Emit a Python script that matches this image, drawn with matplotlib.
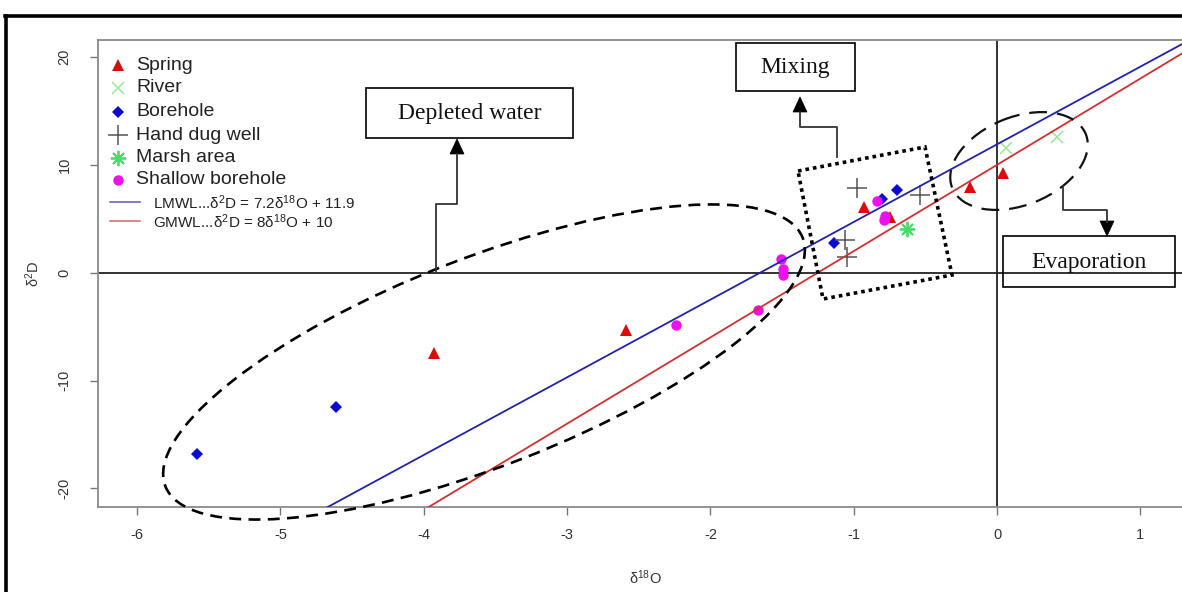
import matplotlib
matplotlib.use("Agg")
import matplotlib.pyplot as plt
from matplotlib.patches import Ellipse, Polygon, Rectangle

plt.rcParams["axes.unicode_minus"] = False
plt.rcParams["mathtext.default"] = "regular"

# ---------------- data ----------------
spring_x = [-3.93, -2.59, -0.93, -0.75, -0.19, 0.04]
spring_y = [-7.45, -5.3, 6.1, 5.2, 7.9, 9.2]
river_x = [0.06, 0.42]
river_y = [11.6, 12.6]
borehole_x = [-5.58, -4.61, -1.14, -0.80, -0.70]
borehole_y = [-16.8, -12.45, 2.75, 6.8, 7.7]
handdug_x = [-0.98, -0.54, -1.06, -1.05]
handdug_y = [7.85, 7.2, 3.0, 1.45]
marsh_x = [-0.63]
marsh_y = [4.05]
shallow_x = [-2.24, -1.67, -1.51, -1.49, -1.49, -0.84, -0.79, -0.78]
shallow_y = [-4.85, -3.5, 1.27, 0.3, -0.2, 6.65, 4.9, 5.25]

lmwl_slope, lmwl_icpt = 7.2, 11.9
gmwl_slope, gmwl_icpt = 8.0, 10.0

x_ticks = [-6, -5, -4, -3, -2, -1, 0, 1]
y_ticks = [-20, -10, 0, 10, 20]

series_names = ["Spring", "River", "Borehole", "Hand dug well", "Marsh area", "Shallow borehole"]
line_names = ["LMWL...δ$^{2}$D = 7.2δ$^{18}$O + 11.9",
              "GMWL...δ$^{2}$D = 8δ$^{18}$O + 10"]

# ---------------- styles ----------------
styles = {
    "Spring": dict(marker="^", color="#dd0a0a", ms=8, mew=0, ls="none"),
    "River": dict(marker="x", color="#98e898", ms=9, mew=1.1, ls="none"),
    "Borehole": dict(marker="D", color="#0a0ad0", ms=6.5, mew=0, ls="none"),
    "Hand dug well": dict(marker="+", color="#555555", ms=14, mew=1.1, ls="none"),
    "Marsh area": dict(marker=(8, 2, 0), color="#44dd66", ms=11, mew=1.3, ls="none"),
    "Shallow borehole": dict(marker="o", color="#ee10ee", ms=7.5, mew=0, ls="none"),
}
lmwl_color = "#2222aa"
gmwl_color = "#d23030"

W, H = 1182, 592
fig = plt.figure(figsize=(W / 100, H / 100), dpi=100)
fig.patch.set_facecolor("white")

def fx(px):
    return px / W

def fy(py):
    return 1 - py / H

L, R, T, B = 98, 1192, 40, 507
ax = fig.add_axes([fx(L), fy(B), fx(R) - fx(L), fy(T) - fy(B)])
x0px, sx, y0py, sy = 997.0, 143.3, 272.7, 10.785
ax.set_xlim((L - x0px) / sx, (R - x0px) / sx)
ax.set_ylim((y0py - B) / sy, (y0py - T) / sy)

data = {
    "Spring": (spring_x, spring_y),
    "River": (river_x, river_y),
    "Borehole": (borehole_x, borehole_y),
    "Hand dug well": (handdug_x, handdug_y),
    "Marsh area": (marsh_x, marsh_y),
    "Shallow borehole": (shallow_x, shallow_y),
}
for name in series_names:
    xs, ys = data[name]
    ax.plot(xs, ys, zorder=3, **styles[name])

xl = [-7, 2]
ax.plot(xl, [lmwl_slope * v + lmwl_icpt for v in xl], color=lmwl_color, lw=1.3, zorder=4)
ax.plot(xl, [gmwl_slope * v + gmwl_icpt for v in xl], color=gmwl_color, lw=1.3, zorder=4)
ax.axhline(0, color="#222222", lw=1.3, zorder=2)
ax.axvline(0, color="#222222", lw=1.3, zorder=2)

for s in ax.spines.values():
    s.set_color("#8a8a8a")
    s.set_linewidth(1.3)
ax.set_xticks(x_ticks)
ax.set_yticks(y_ticks)
ax.tick_params(direction="out", length=6, width=1, color="#777777",
               labelsize=10.5, labelcolor="#333333", pad=9)
ax.tick_params(axis="y", labelrotation=90, pad=13)
for lab in ax.get_yticklabels():
    lab.set_va("center")
    lab.set_fontfamily("Liberation Sans")
for lab in ax.get_xticklabels():
    lab.set_fontfamily("Liberation Sans")

ax.set_xlabel("δ$^{18}$O", fontsize=10.5, color="#333333", labelpad=19, family="Liberation Sans")
ax.set_ylabel("δ$^{2}$D", fontsize=10.5, color="#333333", labelpad=11, family="Liberation Sans")

# ---------------- overlay in pixel coordinates ----------------
ov = fig.add_axes([0, 0, 1, 1])
ov.set_xlim(0, W)
ov.set_ylim(H, 0)
ov.axis("off")
ov.patch.set_alpha(0)

# outer frame
ov.plot([5, W + 5], [16, 16], color="black", lw=2.6, clip_on=False, solid_capstyle="projecting")
ov.plot([6, 6], [16, H + 5], color="black", lw=2.6, clip_on=False)

# legend
leg_rows = [65, 88, 112, 135, 158, 180]
for name, yy in zip(series_names, leg_rows):
    st = dict(styles[name])
    ov.plot([118], [yy], **st)
    ov.text(136, yy, name, fontsize=14, family="Liberation Sans", va="center", ha="left", color="#222222")
for txt, col, yy in zip(line_names, [lmwl_color, gmwl_color], [202, 221]):
    ov.plot([110, 140], [yy, yy], color=col, lw=1.1, alpha=0.75)
    ov.text(153, yy + 1, txt, fontsize=11, family="Liberation Sans", va="center", ha="left", color="#222222")

# ellipses and mixing box
ov.add_patch(Ellipse((484, 362), 2 * 342, 2 * 104, angle=-21.3, fill=False, ec="black", lw=1.9,
                     ls=(0, (4.5, 2.8))))
ov.add_patch(Ellipse((1019, 161), 2 * 72, 2 * 44, angle=-22, fill=False, ec="#111111", lw=1.6,
                     ls=(0, (8, 4.5))))
ov.add_patch(Polygon([(798, 171), (925, 147), (952, 275), (823, 299)], closed=True, fill=False,
                     ec="black", lw=2.6, ls=(0, (1, 1.1))))

# text boxes
def tbox(x0, y0, x1, y1, text, size):
    ov.add_patch(Rectangle((x0, y0), x1 - x0, y1 - y0, fill=False, ec="black", lw=1.2))
    ov.text((x0 + x1) / 2, (y0 + y1) / 2 + 1, text, fontsize=size, family="Liberation Serif",
            ha="center", va="center", color="#111111")

tbox(366, 88, 573, 138, "Depleted water", 17)
tbox(736, 43, 855, 91, "Mixing", 17)
tbox(1003, 236, 1175, 287, "Evaporation", 17)

def elbow(pts, tip, up):
    xs = [p[0] for p in pts]
    ys = [p[1] for p in pts]
    ov.plot(xs, ys, color="#333333", lw=1.3)
    tx, ty = tip
    hw, hh = 7, 15
    if up:
        tri = [(tx, ty), (tx - hw, ty + hh), (tx + hw, ty + hh)]
    else:
        tri = [(tx, ty), (tx - hw, ty - hh), (tx + hw, ty - hh)]
    ov.add_patch(Polygon(tri, closed=True, fc="black", ec="black", lw=0.5))

elbow([(436, 272), (436, 204), (457, 204), (457, 154)], (457, 139), True)
elbow([(837, 157), (837, 127), (800, 127), (800, 112)], (800, 97), True)
elbow([(1063, 186), (1063, 210), (1107, 210), (1107, 222)], (1107, 236), False)

fig.savefig("out.png", dpi=100, facecolor="white")
